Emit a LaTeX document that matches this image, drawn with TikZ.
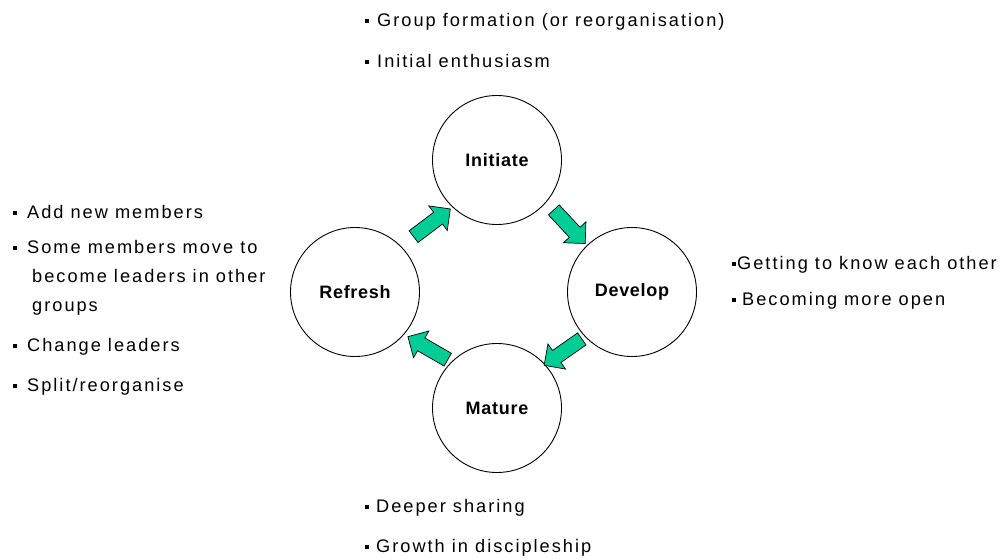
\documentclass[tikz,border=0pt]{standalone}
\usepackage{fontspec}
\setmainfont[LetterSpace=11]{Liberation Sans}
\newfontfamily\stagefont[LetterSpace=4]{Liberation Sans}
\usetikzlibrary{shapes.arrows}
\definecolor{cyclegreen}{RGB}{0,204,150}
\newcommand\itembullet{\raisebox{0.2em}{\rule{4pt}{4pt}}}
\begin{document}
\begin{tikzpicture}[x=1pt,y=-1pt,
  stage/.style={circle,draw=black,line width=0.9pt,minimum size=129pt,inner sep=0pt,
    font=\stagefont\fontsize{18}{20}\selectfont\bfseries},
  flow/.style={single arrow,draw=black,line width=0.7pt,fill=cyclegreen,
    minimum height=46pt,inner xsep=0pt,inner ysep=7pt,single arrow head extend=8pt},
  note/.style={anchor=west,inner sep=0pt,align=left,
    font=\fontsize{18.2}{29}\selectfont}]
\useasboundingbox (0,0) rectangle (1003,559);

% the four stages of the cycle
\node[stage] (init) at (497,160) {Initiate};
\node[stage] (dev)  at (632,292) {Develop};
\node[stage] (mat)  at (497,408) {Mature};
\node[stage] (ref)  at (355,292) {Refresh};

% block arrows between the stages
\node[flow,rotate=37]  (a1) at (429,225) {};
\node[flow,rotate=-47] (a2) at (567,224) {};
\node[flow,rotate=215] (a3) at (566,350) {};
\node[flow,rotate=150] (a4) at (431,350) {};

% notes for Initiate
\node[note] (n1) at (365,22) {\itembullet\hspace{8pt}Group formation (or reorganisation)};
\node[note] (n2) at (365,61) {\itembullet\hspace{8pt}Initial enthusiasm};

% notes for Develop
\node[note] (n3) at (732,265) {\itembullet\hspace{1pt}Getting to know each other};
\node[note] (n4) at (732,301) {\itembullet\hspace{6pt}Becoming more open};

% notes for Mature
\node[note] (n5) at (365,508) {\itembullet\hspace{7pt}Deeper sharing};
\node[note] (n6) at (365,548) {\itembullet\hspace{7pt}Growth in discipleship};

% notes for Refresh
\node[note] (n7) at (13,212) {\itembullet\hspace{10pt}Add new members};
\node[note,anchor=north west] (n8) at (13,240)
  {\itembullet\hspace{10pt}Some members move to\\\hspace*{19pt}become leaders in other\\\hspace*{19pt}groups};
\node[note] (n9) at (13,347) {\itembullet\hspace{10pt}Change leaders};
\node[note] (n10) at (13,387) {\itembullet\hspace{10pt}Split/reorganise};
\end{tikzpicture}
\end{document}
